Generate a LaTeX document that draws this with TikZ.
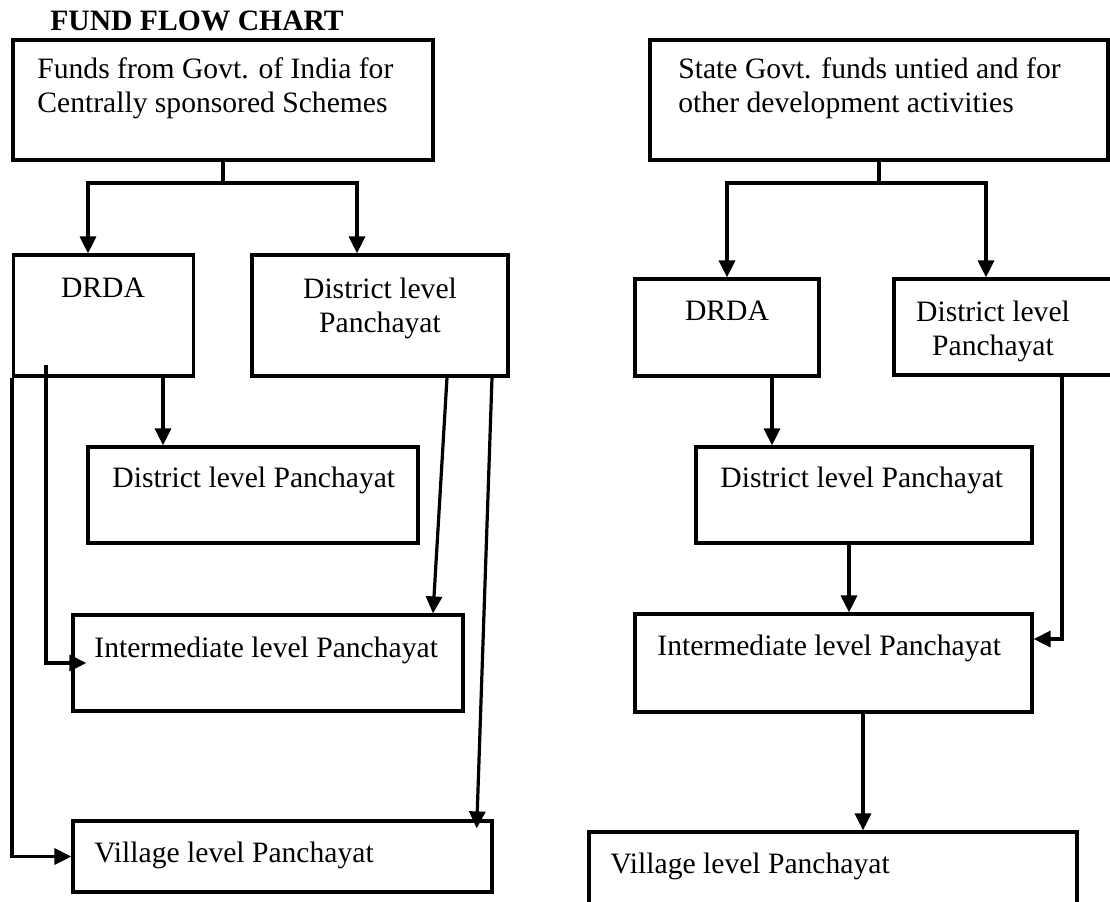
\documentclass[tikz,border=0pt]{standalone}
\usepackage{fontspec}
\setmainfont{Liberation Serif}
\usepackage{xcolor}
\usepackage{tikz}
\usetikzlibrary{arrows.meta}
\definecolor{ink}{HTML}{000000}
\definecolor{paper}{HTML}{FFFFFF}
\tikzset{
  box/.style={draw=ink, line width=1.6pt, rectangle, inner sep=0pt},
  link/.style={draw=ink, line width=1.6pt},
  arr/.style={draw=ink, line width=1.6pt, -{Triangle[length=8.5pt,width=8pt]}},
  lab/.style={text=ink, inner sep=0pt, font=\fontsize{14.8}{17}\selectfont},
  ttl/.style={text=ink, inner sep=0pt, font=\fontsize{14.8}{17}\selectfont\bfseries},
}

\begin{document}
\begin{tikzpicture}[x=0.5pt,y=-0.5pt]
  \useasboundingbox (0,0) rectangle (1110,901);
  \fill[paper] (0,0) rectangle (1110,901);
  \clip (0,0) rectangle (1110,901);

  \node[ttl, anchor=base west] (title) at (50,30) {FUND FLOW CHART};

  % central schemes column
  \node[box, minimum width=210pt, minimum height=60pt] (govL) at (223,100) {};
  \node[box, minimum width=90pt, minimum height=60.5pt] (drdaL) at (103.5,315.5) {};
  \node[box, minimum width=128pt, minimum height=60.5pt] (distL) at (380,315.5) {};
  \node[box, minimum width=165pt, minimum height=48pt] (dist2L) at (253,495) {};
  \node[box, minimum width=195pt, minimum height=48pt] (intL) at (268,663) {};
  \node[box, minimum width=209.5pt, minimum height=35.5pt] (vilL) at (282.5,856.5) {};

  \node[lab, anchor=base west, align=left] (govLt) at (37,112) {Funds from Govt. of India for\\Centrally sponsored Schemes};
  \node[lab, anchor=base] (drdaLt) at (103,297) {DRDA};
  \node[lab, anchor=base, align=center] (distLt) at (380,332) {District level\\Panchayat};
  \node[lab, anchor=base west] (dist2Lt) at (112,487) {District level Panchayat};
  \node[lab, anchor=base west] (intLt) at (94,657) {Intermediate level Panchayat};
  \node[lab, anchor=base west] (vilLt) at (94,862) {Village level Panchayat};

  \coordinate (jL) at (223,183);
  \coordinate (tapL) at (46,365);
  \draw[link] (govL.south) -- (jL);
  \draw[arr] (jL) -| (drdaL.north -| 88,0);
  \draw[arr] (jL) -| (distL.north -| 357,0);
  \draw[arr] (drdaL.south -| 163,0) -- (dist2L.north -| 163,0);
  \draw[arr] (drdaL.south west) |- (vilL.west);
  \draw[arr, shorten >=-7.5pt] (tapL) |- (intL.west);
  \draw[arr] (distL.south -| 447,0) -- (intL.north -| 433,0);
  \draw[arr, shorten >=-4.5pt] (distL.south -| 492,0) -- (vilL.north -| 477,0);

  % state funds column
  \node[box, minimum width=229pt, minimum height=60pt] (govR) at (879,100) {};
  \node[box, minimum width=92pt, minimum height=48.5pt] (drdaR) at (727,327.5) {};
  \node[box, minimum width=111pt, minimum height=48pt] (distR) at (1005,327) {};
  \node[box, minimum width=168pt, minimum height=48pt] (dist2R) at (864,495) {};
  \node[box, minimum width=198.5pt, minimum height=49pt] (intR) at (833.5,663) {};
  \node[box, minimum width=244pt, minimum height=54pt] (vilR) at (833,886) {};

  \node[lab, anchor=base west, align=left] (govRt) at (678,112) {State Govt. funds untied and for\\other development activities};
  \node[lab, anchor=base] (drdaRt) at (727,320) {DRDA};
  \node[lab, anchor=base, align=center] (distRt) at (993,355) {District level\\Panchayat};
  \node[lab, anchor=base west] (dist2Rt) at (720,487) {District level Panchayat};
  \node[lab, anchor=base west] (intRt) at (657,655) {Intermediate level Panchayat};
  \node[lab, anchor=base west] (vilRt) at (610,873) {Village level Panchayat};

  \coordinate (jR) at (879,183);
  \draw[link] (govR.south) -- (jR);
  \draw[arr] (jR) -| (drdaR.north);
  \draw[arr] (jR) -| (distR.north -| 986,0);
  \draw[arr] (drdaR.south -| 772,0) -- (dist2R.north -| 772,0);
  \draw[arr] (dist2R.south -| 849,0) -- (intR.north -| 849,0);
  \draw[arr] (distR.south -| 1062,0) |- (intR.east |- 0,639);
  \draw[arr] (intR.south -| 863,0) -- (vilR.north -| 863,0);
\end{tikzpicture}
\end{document}
